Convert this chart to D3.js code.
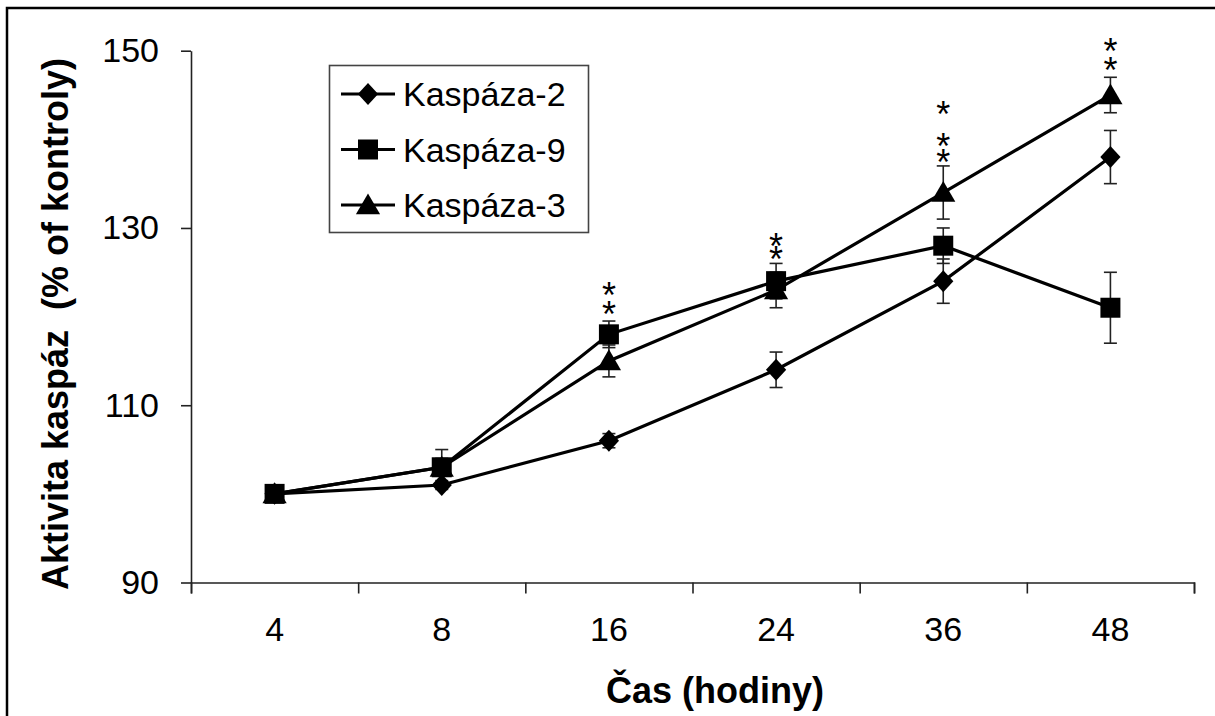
<html>
<head>
<meta charset="utf-8">
<script src="https://d3js.org/d3.v7.min.js"></script>
<style>
body { margin: 0; background: #fff; }
text { font-family: "Liberation Sans", Arial, sans-serif; }
</style>
</head>
<body>
<svg width="1215" height="716"></svg>
<script>
// data
var hours = ["4", "8", "16", "24", "36", "48"];
var yTicks = [90, 110, 130, 150];
var seriesNames = ["Kaspáza-2", "Kaspáza-9", "Kaspáza-3"];
var kasp2 = [100, 101, 106, 114, 124, 138];
var kasp9 = [100, 103, 118, 124, 128, 121];
var kasp3 = [100, 103, 115, 123, 134, 145];
var err2 = [0, 0.5, 0.8, 2, 2.5, 3];
var err9 = [0, 2, 1.5, 2, 2, 4];
var err3 = [0, 1, 1.8, 2, 3, 2];
// asterisks (position in % units)
var starHours = ["16", "16", "24", "24", "36", "36", "36", "48", "48"];
var starValues = [121.1, 123.2, 127.3, 128.8, 138.2, 140.0, 143.7, 148.6, 150.7];

var svg = d3.select("svg");

var x = d3.scaleBand().domain(hours).range([191, 1194]);
var y = d3.scaleLinear().domain([90, 150]).range([582.5, 50.7]);

// outer frame (only top and left edges fall in the picture)
svg.append("rect")
  .attr("x", 7).attr("y", 8).attr("width", 1400).attr("height", 900)
  .attr("fill", "none").attr("stroke", "#000").attr("stroke-width", 2.5);

/// AXES
var yAxis = svg.append("g")
  .attr("transform", "translate(" + x.range()[0] + ",0)")
  .call(d3.axisLeft(y).tickValues(yTicks).tickSize(10).tickPadding(22).tickSizeOuter(0));
yAxis.selectAll("text").style("font-size", "34px").attr("fill", "#000");

// x ticks sit on the category edges, labels in the middle
var edges = d3.scaleLinear().domain([0, hours.length]).range(x.range());
var xEdge = svg.append("g")
  .attr("transform", "translate(0," + y(90) + ")")
  .call(d3.axisBottom(edges).tickValues(d3.range(hours.length + 1)).tickSize(11).tickFormat(""));
var xLab = svg.append("g")
  .attr("transform", "translate(0," + y(90) + ")")
  .call(d3.axisBottom(x).tickSize(0).tickPadding(34));
xLab.select(".domain").remove();
xLab.selectAll("text").style("font-size", "34px").attr("fill", "#000");
svg.selectAll(".domain, .tick line").attr("stroke", "#222").attr("stroke-width", 1.6);

// axis titles
svg.append("text")
  .attr("transform", "translate(68,324) rotate(-90)")
  .attr("text-anchor", "middle")
  .style("font-size", "36px").style("font-weight", "bold")
  .style("white-space", "pre")
  .text("Aktivita kaspáz  (% of kontroly)");
svg.append("text")
  .attr("x", 715).attr("y", 703)
  .attr("text-anchor", "middle")
  .style("font-size", "36px").style("font-weight", "bold")
  .text("Čas (hodiny)");

/// MARKERS
function diamond(s) { return "M0," + (-s) + "L" + (s * 0.92) + ",0L0," + s + "L" + (-s * 0.92) + ",0Z"; }
function square(s) { return "M" + (-s) + "," + (-s) + "H" + s + "V" + s + "H" + (-s) + "Z"; }
function triangle(s) { return "M0," + (-s * 1.05) + "L" + (s * 1.1) + "," + (s * 0.85) + "L" + (-s * 1.1) + "," + (s * 0.85) + "Z"; }

var series = [
  { name: seriesNames[0], vals: kasp2, err: err2, shape: diamond(11) },
  { name: seriesNames[2], vals: kasp3, err: err3, shape: triangle(11) },
  { name: seriesNames[1], vals: kasp9, err: err9, shape: square(10) }
];
var cx = function(i) { return x(hours[i]) + x.bandwidth() / 2; };

var line = d3.line().x(function(d, i) { return cx(i); }).y(function(d) { return y(d); });

series.forEach(function(s) {
  svg.append("path").attr("d", line(s.vals))
    .attr("fill", "none").attr("stroke", "#000").attr("stroke-width", 3.2);
});

series.forEach(function(s) {
  var g = svg.append("g").attr("stroke", "#222").attr("stroke-width", 1.6);
  s.vals.forEach(function(v, i) {
    if (!s.err[i]) return;
    var x0 = cx(i), t = y(v + s.err[i]), b = y(v - s.err[i]);
    g.append("line").attr("x1", x0).attr("x2", x0).attr("y1", t).attr("y2", b);
    g.append("line").attr("x1", x0 - 6.5).attr("x2", x0 + 6.5).attr("y1", t).attr("y2", t);
    g.append("line").attr("x1", x0 - 6.5).attr("x2", x0 + 6.5).attr("y1", b).attr("y2", b);
  });
});

series.forEach(function(s) {
  svg.append("g").selectAll("path").data(s.vals).enter().append("path")
    .attr("d", s.shape)
    .attr("transform", function(d, i) { return "translate(" + cx(i) + "," + y(d) + ")"; })
    .attr("fill", "#000");
});

// asterisks: one text per time point, one tspan per star
var starCols = d3.groups(d3.range(starValues.length), function(i) { return starHours[i]; });
starCols.forEach(function(col) {
  var t = svg.append("text")
    .attr("text-anchor", "middle")
    .style("font-size", "36px");
  col[1].forEach(function(i) {
    t.append("tspan")
      .attr("x", x(starHours[i]) + x.bandwidth() / 2)
      .attr("y", y(starValues[i]) + 20)
      .text("*");
  });
});

/// LEGEND
var leg = svg.append("g");
leg.append("rect").attr("x", 329.5).attr("y", 65.5).attr("width", 259).attr("height", 167)
  .attr("fill", "#fff").attr("stroke", "#444").attr("stroke-width", 1.6);
var legOrder = [series[0], series[2], series[1]];
var legY = d3.scalePoint().domain(seriesNames).range([94, 205]);
legOrder.forEach(function(s) {
  var ly = legY(s.name);
  leg.append("line").attr("x1", 341).attr("x2", 395).attr("y1", ly).attr("y2", ly)
    .attr("stroke", "#000").attr("stroke-width", 3.2);
  leg.append("path").attr("d", s.shape).attr("transform", "translate(368," + ly + ")").attr("fill", "#000");
  leg.append("text").attr("x", 403).attr("y", ly).attr("dy", "0.36em")
    .style("font-size", "34px").text(s.name);
});
</script>
</body>
</html>
